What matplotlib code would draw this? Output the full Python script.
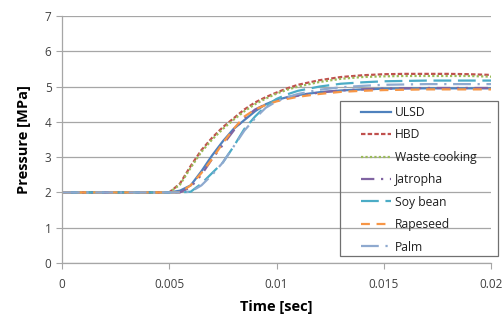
import matplotlib
matplotlib.use("Agg")
import matplotlib.pyplot as plt
from matplotlib.patches import Rectangle

plt.rcParams['font.family'] = ['Open Sans', 'DejaVu Sans']

time = [0, 0.005, 0.0055, 0.006, 0.0065, 0.007, 0.0075, 0.008, 0.0085, 0.009,
        0.0095, 0.01, 0.0105, 0.011, 0.012, 0.013, 0.014, 0.015, 0.016, 0.017,
        0.018, 0.019, 0.02]

ulsd = [2, 2.0, 2.05, 2.2, 2.6, 3.05, 3.45, 3.8, 4.05, 4.3, 4.5, 4.62, 4.7, 4.76,
        4.84, 4.89, 4.92, 4.94, 4.95, 4.95, 4.95, 4.95, 4.95]
hbd = [2, 2.0, 2.25, 2.75, 3.2, 3.55, 3.85, 4.1, 4.35, 4.55, 4.7, 4.83, 4.95, 5.05,
       5.18, 5.27, 5.32, 5.35, 5.36, 5.36, 5.36, 5.35, 5.33]
waste = [2, 2.0, 2.22, 2.7, 3.15, 3.5, 3.8, 4.06, 4.3, 4.5, 4.66, 4.8, 4.91, 5.0,
         5.13, 5.22, 5.27, 5.29, 5.3, 5.3, 5.3, 5.3, 5.28]
jatropha = [2, 2.0, 2.0, 2.15, 2.5, 2.95, 3.35, 3.75, 4.1, 4.35, 4.5, 4.6, 4.68, 4.74,
            4.83, 4.89, 4.92, 4.94, 4.95, 4.96, 4.96, 4.96, 4.96]
soy = [2, 2.0, 2.0, 2.02, 2.25, 2.55, 2.85, 3.3, 3.8, 4.15, 4.45, 4.65, 4.78, 4.88,
       5.0, 5.08, 5.12, 5.15, 5.16, 5.17, 5.17, 5.17, 5.17]
rapeseed = [2, 2.0, 2.0, 2.2, 2.55, 2.95, 3.4, 3.8, 4.15, 4.35, 4.48, 4.58, 4.65, 4.71,
            4.79, 4.85, 4.88, 4.9, 4.91, 4.92, 4.92, 4.92, 4.92]
palm = [2, 2.0, 2.0, 2.02, 2.2, 2.5, 2.85, 3.3, 3.75, 4.1, 4.4, 4.58, 4.7, 4.79,
        4.91, 4.98, 5.02, 5.05, 5.06, 5.07, 5.07, 5.07, 5.07]

labels = ["ULSD", "HBD", "Waste cooking", "Jatropha", "Soy bean", "Rapeseed", "Palm"]
series = [ulsd, hbd, waste, jatropha, soy, rapeseed, palm]
colors = ["#4F81BD", "#C0504D", "#9BBB59", "#8064A2", "#4BACC6", "#F79646", "#8EA9CF"]
styles = ["-", (0, (2, 1)), (0, (1, 1)), (0, (6, 3, 1, 3, 1, 3)), (0, (8, 3)),
          (0, (4, 3)), (0, (8, 3, 1, 3))]

fig = plt.figure(figsize=(5.03, 3.27), dpi=100)
ax = fig.add_axes([62/503, 1-263/327, (491-62)/503, (263-16)/327])

for y, lab, c, ls in zip(series, labels, colors, styles):
    ax.plot(time, y, color=c, linestyle=ls, linewidth=1.6, label=lab)

ax.set_xlim(0, 0.02)
ax.set_ylim(0, 7)
ax.set_xticks([0, 0.005, 0.01, 0.015, 0.02])
ax.set_xticklabels(["0", "0.005", "0.01", "0.015", "0.02"])
ax.set_yticks(range(0, 8))
ax.grid(axis='y', color='#A6A6A6', linewidth=0.9)
ax.set_axisbelow(True)
for s in ['top', 'right']:
    ax.spines[s].set_visible(False)
for s in ['left', 'bottom']:
    ax.spines[s].set_color('#A6A6A6')
    ax.spines[s].set_linewidth(0.9)
ax.tick_params(axis='both', colors='#A6A6A6', labelcolor='#404040', labelsize=8.5, length=4)
ax.tick_params(axis='x', pad=7)
ax.set_xlabel("Time [sec]", fontsize=10.5, fontweight='bold', labelpad=6)
ax.set_ylabel("Pressure [MPa]", fontsize=10.5, fontweight='bold', labelpad=10)

handles, labs = ax.get_legend_handles_labels()
leg = fig.legend(handles, labs, loc='upper left', bbox_to_anchor=(361/503, 1-106/327),
                 frameon=False, fontsize=8.7, handlelength=2.5, labelspacing=0.78,
                 handletextpad=0.3, borderpad=0, borderaxespad=0)
for t in leg.get_texts():
    t.set_color('#202020')
fig.patches.append(Rectangle((340/503, 1-256/327), 158/503, 155/327,
                             transform=fig.transFigure, fill=False,
                             edgecolor='#707070', linewidth=0.9))

fig.savefig("out.png", dpi=100)
